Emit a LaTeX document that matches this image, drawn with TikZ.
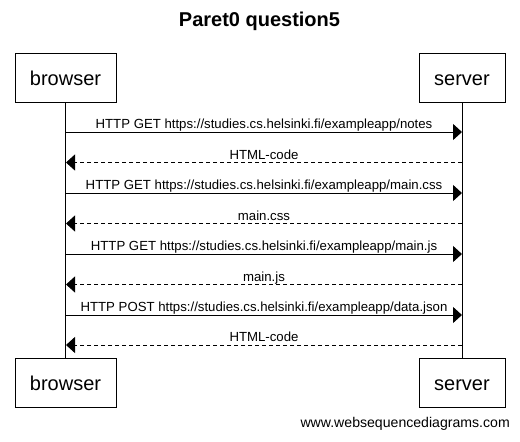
\documentclass[tikz,border=0pt]{standalone}
\usepackage{fontspec}
\setmainfont{Liberation Sans}[Ligatures=NoCommon]
\usepackage{tikz}
\usetikzlibrary{arrows.meta}
\usetikzlibrary{calc}

\begin{document}
\begin{tikzpicture}[x=1pt, y=-1pt]
        % ================= 样式定义 =================
        \tikzset{
            % 参与者方框
            actor/.style={draw=black, line width=1pt, fill=white, minimum height=49pt, inner sep=0pt, text height=15pt, text depth=0pt, font=\fontsize{20}{24}\selectfont},
            % 生命线
            lifeline/.style={line width=1pt, black},
            % 请求 (实线)
            request/.style={line width=1pt, black, -{Triangle[length=9pt, width=16pt]}},
            % 响应 (虚线)
            reply/.style={line width=1pt, black, dash pattern=on 4pt off 3pt, -{Triangle[length=9pt, width=16pt]}},
            % 消息文字
            msglabel/.style={anchor=base, yshift=3.5pt, inner sep=0pt, font=\fontsize{13.2}{15}\selectfont}
        }

        \useasboundingbox (0,0) rectangle (520,442);

        % ================= 1. 标题 =================
        \node[anchor=base, inner sep=0pt, font=\fontsize{20}{24}\selectfont\bfseries] (title) at (259.5,26.7) {Paret0 question5};

        % ================= 2. 参与者 (上下各一) =================
        \node[actor, minimum width=101pt] (browserTop) at (65.5,77.5) {browser};
        \node[actor, minimum width=86pt] (serverTop) at (462,77.5) {server};
        \node[actor, minimum width=101pt] (browserBot) at (65.5,382.5) {browser};
        \node[actor, minimum width=86pt] (serverBot) at (462,382.5) {server};

        % ================= 3. 生命线 =================
        \draw[lifeline] (browserTop.south) -- (browserBot.north);
        \draw[lifeline] (serverTop.south) -- (serverBot.north);

        % ================= 4. 消息端点 =================
        \foreach \y [count=\i] in {132,162.5,193,223.5,254,284.5,315,345}{
            \coordinate (b\i) at (66,\y);
            \coordinate (s\i) at (462,\y);
        }

        % ================= 5. 消息 =================
        \draw[request] (b1) -- node[msglabel] {HTTP GET https://studies.cs.helsinki.fi/exampleapp/notes} (s1);
        \draw[reply] (s2) -- node[msglabel] {HTML-code} (b2);
        \draw[request] (b3) -- node[msglabel] {HTTP GET https://studies.cs.helsinki.fi/exampleapp/main.css} (s3);
        \draw[reply] (s4) -- node[msglabel] {main.css} (b4);
        \draw[request] (b5) -- node[msglabel] {HTTP GET https://studies.cs.helsinki.fi/exampleapp/main.js} (s5);
        \draw[reply] (s6) -- node[msglabel] {main.js} (b6);
        \draw[request] (b7) -- node[msglabel] {HTTP POST https://studies.cs.helsinki.fi/exampleapp/data.json} (s7);
        \draw[reply] (s8) -- node[msglabel] {HTML-code} (b8);

        % ================= 6. 水印 =================
        \node[anchor=base east, inner sep=0pt, font=\fontsize{14.1}{16}\selectfont] (credit) at (510,427) {www.websequencediagrams.com};

    \end{tikzpicture}
\end{document}
